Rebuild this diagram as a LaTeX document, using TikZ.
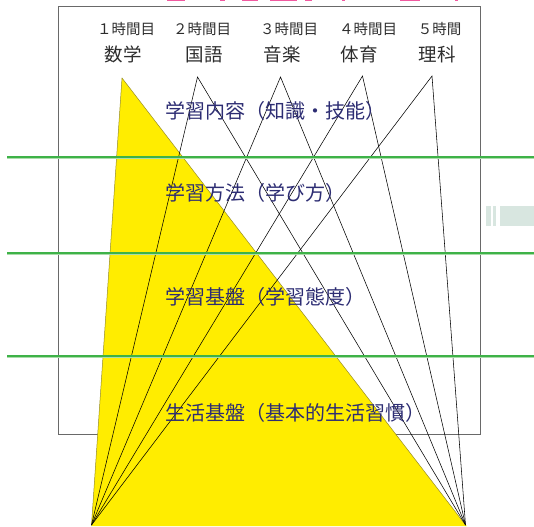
\documentclass[tikz,border=0pt]{standalone}
\usepackage{fontspec}
\newfontfamily\jp{Noto Sans CJK JP}
\definecolor{yel}{RGB}{255,237,0}
\definecolor{yeledge}{RGB}{150,140,40}
\definecolor{grn}{RGB}{62,178,72}
\definecolor{grnlight}{RGB}{170,220,170}
\definecolor{navy}{RGB}{45,45,115}
\definecolor{headgray}{RGB}{45,45,45}
\definecolor{framegray}{RGB}{105,105,105}
\definecolor{deco}{RGB}{216,230,224}
\definecolor{pinkish}{RGB}{240,90,160}
\begin{document}
\begin{tikzpicture}[x=1pt,y=-1pt,
  conn/.style={draw=black,line width=0.55pt},
  layer/.style={draw=grn,line width=2pt},
  layertext/.style={anchor=west,inner sep=0pt,text=navy,font=\jp\fontsize{20}{20}\selectfont},
  period/.style={inner sep=0pt,text=headgray,font=\jp\fontsize{14.5}{15}\selectfont},
  subject/.style={inner sep=0pt,text=headgray,font=\jp\fontsize{18.5}{19}\selectfont}]
\useasboundingbox (0,0) rectangle (534,526);
% decorative fragments
\fill[deco] (486,206) rectangle (491,226);
\fill[deco] (493,206) rectangle (496,226);
\fill[deco] (500,206) rectangle (534,226);
\fill[pinkish] (167,0) rectangle (185,1.5);
\fill[pinkish] (220,0) rectangle (225,1.5);
\fill[pinkish] (242,0) rectangle (258,1.5);
\fill[pinkish] (270,0) rectangle (297,1.5);
\fill[pinkish] (305,0) rectangle (312,1.5);
\fill[pinkish] (342,0) rectangle (345,1.5);
\fill[pinkish] (400,0) rectangle (420,1.5);
\fill[pinkish] (455,0) rectangle (458,1.5);
% frame
\draw[framegray,line width=1pt] (58,6.5) rectangle (480,434);
% points
\coordinate (a1) at (122,78);
\coordinate (a2) at (197.5,77);
\coordinate (a3) at (280.5,77);
\coordinate (a4) at (362.5,76);
\coordinate (a5) at (432,76);
\coordinate (bl) at (91.5,525);
\coordinate (br) at (465.5,525);
% yellow triangle
\fill[yel] (a1) -- (bl) -- (91.4,526) -- (467,526) -- (br) -- cycle;
\draw[yeledge,line width=0.5pt] (bl) -- (a1) -- (br);
% connectors
\foreach \a in {a2,a3,a4,a5}{
  \draw[conn] (bl) -- (\a) -- (br);
}
% layer separators
\foreach \yy in {157,253,356}{
  \draw[layer] (7,\yy) -- (534,\yy);
  \draw[grnlight,line width=0.8pt] (7,\yy+1.6) -- (534,\yy+1.6);
}
% header labels
\node[period] (p1) at (126,28.5) {１時間目};
\node[period] (p2) at (202,28.5) {２時間目};
\node[period] (p3) at (289,28.5) {３時間目};
\node[period] (p4) at (368,28.5) {４時間目};
\node[period] (p5) at (439.5,28.5) {５時間};
\node[subject] (s1) at (123,54.5) {数学};
\node[subject] (s2) at (204,54.5) {国語};
\node[subject] (s3) at (282,54.5) {音楽};
\node[subject] (s4) at (359,54.5) {体育};
\node[subject] (s5) at (437,54.5) {理科};
% layer labels
\node[layertext] (l1) at (165,110.5) {学習内容（知識・技能）};
\node[layertext] (l2) at (165,193) {学習方法（学び方）};
\node[layertext] (l3) at (165,297) {学習基盤（学習態度）};
\node[layertext] (l4) at (165,412.5) {生活基盤（基本的生活習慣）};
\end{tikzpicture}
\end{document}
